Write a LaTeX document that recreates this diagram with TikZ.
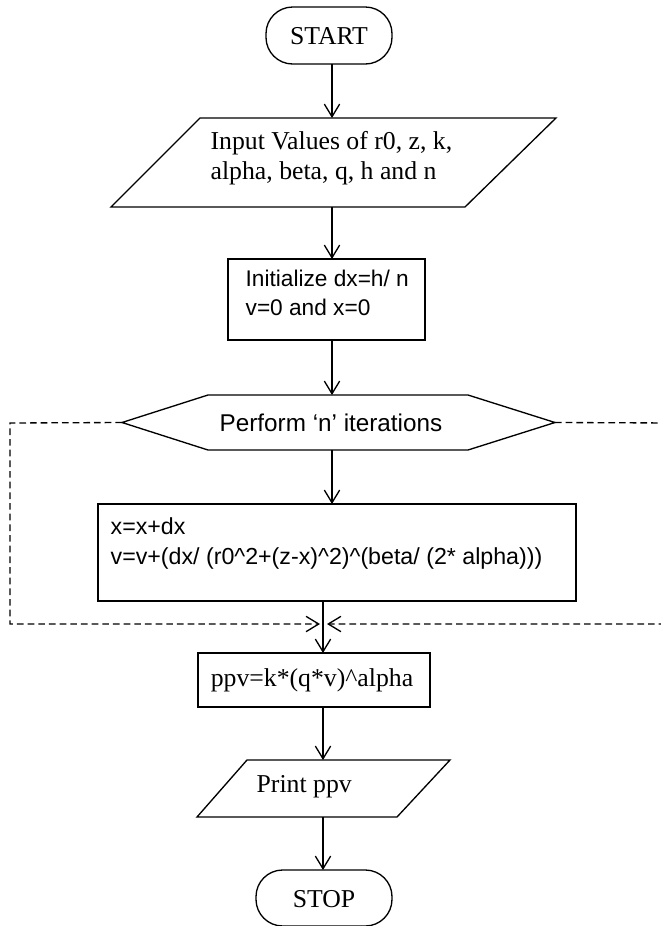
\documentclass[tikz,border=0pt]{standalone}
\usepackage{fontspec}
\setmainfont{Liberation Serif}
\setsansfont{Liberation Sans}
\usetikzlibrary{arrows.meta,calc}
\begin{document}
\begin{tikzpicture}[x=0.75pt,y=-0.75pt,line width=1pt,
  box/.style={inner sep=0pt,outer sep=0pt},
  serif/.style={font=\fontsize{19.3}{22.5}\selectfont,align=left,inner sep=0pt},
  sans/.style={font=\sffamily\fontsize{17.2}{22}\selectfont,align=left,inner sep=0pt},
  arr/.style={-{Straight Barb[length=9.5pt,width=11.5pt,line width=1pt]}},
  dsh/.style={dashed,dash pattern=on 5pt off 3pt}]
\useasboundingbox (0,0) rectangle (661,926);
\clip (0,0) rectangle (661,926);
% invisible frames of the shapes
\node[box,minimum width=126*0.75pt,minimum height=57*0.75pt] (start) at (329,35.5) {};
\node[box,minimum width=445*0.75pt,minimum height=89*0.75pt] (inp) at (333.5,162.5) {};
\node[box,minimum width=197*0.75pt,minimum height=81*0.75pt] (init) at (326.5,299.5) {};
\node[box,minimum width=433*0.75pt,minimum height=55*0.75pt] (hex) at (338.5,422.5) {};
\node[box,minimum width=478*0.75pt,minimum height=97*0.75pt] (calc) at (337,552.5) {};
\node[box,minimum width=232*0.75pt,minimum height=54*0.75pt] (ppv) at (314,680) {};
\node[box,minimum width=253*0.75pt,minimum height=57*0.75pt] (print) at (323.5,788.5) {};
\node[box,minimum width=136*0.75pt,minimum height=56*0.75pt] (stop) at (324,898) {};
% outlines
\draw[rounded corners=20pt] (start.south west) rectangle (start.north east);
\draw ($(inp.north west)+(89,0)$) -- (inp.north east) -- ($(inp.south east)+(-91,0)$) -- (inp.south west) -- cycle;
\draw (init.south west) rectangle (init.north east);
\draw (hex.west) -- ($(hex.north west)+(86,0)$) -- ($(hex.north east)+(-87,0)$) -- (hex.east) -- ($(hex.south east)+(-87,0)$) -- ($(hex.south west)+(86,0)$) -- cycle;
\draw (calc.south west) rectangle (calc.north east);
\draw (ppv.south west) rectangle (ppv.north east);
\draw ($(print.north west)+(50,0)$) -- (print.north east) -- ($(print.south east)+(-53,0)$) -- (print.south west) -- cycle;
\draw[rounded corners=20pt] (stop.south west) rectangle (stop.north east);
% texts
\node[serif] (tstart) at (329,36) {START};
\node[serif,anchor=west] (tinp) at (210,158) {Input Values of r0, z, k,\\alpha, beta, q, h and n};
\node[sans,font=\sffamily\fontsize{17}{21.5}\selectfont,anchor=west] (tinit) at (245,293) {Initialize dx=h/ n\\v=0 and x=0};
\node[sans,font=\sffamily\fontsize{18.2}{22}\selectfont] (thex) at (331,423) {Perform ‘n’ iterations};
\node[sans,anchor=west,font=\sffamily\fontsize{17.4}{22.5}\selectfont] (tcalc) at (110,543) {x=x+dx\\v=v+(dx/ (r0\^{}2+(z-x)\^{}2)\^{}(beta/ (2* alpha)))};
\node[serif] (tppv) at (312,680) {ppv=k*(q*v)\^{}alpha};
\node[serif,anchor=west] (tprint) at (256,787) {Print ppv};
\node[serif] (tstop) at (324,899) {STOP};
% connectors
\coordinate (a1) at (332,0);
\coordinate (a2) at (323,0);
\draw[arr] (start.south -| a1) -- (inp.north -| a1);
\draw[arr] (inp.south -| a1) -- (init.north -| a1);
\draw[arr] (init.south -| a1) -- (hex.north -| a1);
\draw[arr] (hex.south -| a1) -- (calc.north -| a1);
\draw[arr] (calc.south -| a2) -- (ppv.north -| a2);
\draw[arr] (ppv.south -| a2) -- (print.north -| a2);
\draw[arr] (print.south -| a2) -- (stop.north -| a2);
% loop-back dashed lines
\coordinate (lj) at (320,624);
\coordinate (rj) at (327,624);
\draw[dsh,arr] (hex.west) -- (10,423) -- (10,624) -- (lj);
\draw[dsh,arr] (hex.east) -- (675,423) -- (675,624) -- (rj);
\end{tikzpicture}
\end{document}
